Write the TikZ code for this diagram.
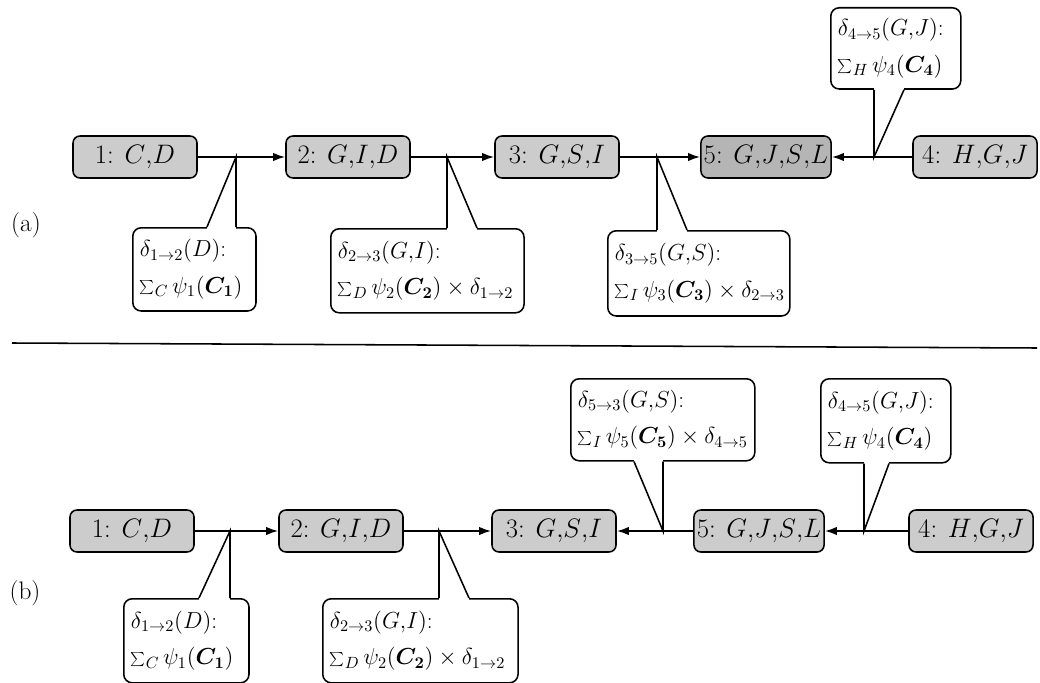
\RequirePackage{fix-cm}
\documentclass[tikz,border=0pt]{standalone}
\usepackage{bm}
\usetikzlibrary{arrows.meta,calc,positioning}
\tikzset{
  clique/.style     = {draw, line width=1.1pt, rounded corners=5pt, fill=gray!40,
                       minimum width=3.1cm, minimum height=1.05cm, inner sep=2pt,
                       font=\fontsize{19}{21}\selectfont},
  clique dark/.style = {clique, fill=gray!58},
  msg/.style        = {draw, line width=1.1pt, rounded corners=6pt, fill=white,
                       anchor=north west, align=left, inner xsep=0.18cm,
                       inner ysep=2pt, font=\fontsize{16.5}{26}\selectfont},
  tag/.style        = {font=\fontsize{18}{20}\selectfont}
}
% tail of a message box: box anchor, tip, offset of the slanted side
\newcommand{\tail}[3]{%
  \draw[white, line width=2.5pt] ($(#2|-#1)+(#3,0)$) -- (#2|-#1);
  \draw[line width=1.1pt] ($(#2|-#1)+(#3,0)$) -- (#2) -- (#2|-#1);
}

\begin{document}
\begin{tikzpicture}[x=0.025cm, y=-0.025cm, >={Latex[length=3mm,width=2.1mm]}]
\useasboundingbox (0,0) rectangle (1040,683);

% (a) the cliques
\node[tag] (taga) at (26,225) {(a)};
\node[clique] (n1a) at (135,157) {1: $C{,}D$};
\node[clique] (n2a) at (348,157) {2: $G{,}I{,}D$};
\node[clique] (n3a) at (557,157) {3: $G{,}S{,}I$};
\node[clique dark] (n5a) at (766,157) {5: $G{,}J{,}S{,}L$};
\node[clique] (n4a) at (975,157) {4: $H{,}G{,}J$};

\begin{scope}[line width=1.3pt]
\draw[->] (n1a) -- (n2a);
\draw[->] (n2a) -- (n3a);
\draw[->] (n3a) -- (n5a);
\draw[->] (n4a) -- (n5a);
\end{scope}

\coordinate (t12a) at (236,157);
\coordinate (t23a) at (447,157);
\coordinate (t35a) at (657,157);
\coordinate (t45a) at (874,157);

% (a) the messages
\node[msg, text width=2.72cm, minimum height=2.08cm] (m12a) at (132,227)
  {\mbox{$\delta_{1\to2}(D)$:}\\ \mbox{$\sum_C \psi_1(\bm{C_1})$}};
\node[msg, text width=4.47cm, minimum height=2.1cm] (m23a) at (330,228)
  {\mbox{$\delta_{2\to3}(G{,}I)$:}\\ \mbox{$\sum_D \psi_2(\bm{C_2}) \times \delta_{1\to2}$}};
\node[msg, text width=4.19cm, minimum height=2.13cm] (m35a) at (607,230)
  {\mbox{$\delta_{3\to5}(G{,}S)$:}\\ \mbox{$\sum_I \psi_3(\bm{C_3}) \times \delta_{2\to3}$}};
\node[msg, text width=2.89cm, minimum height=2.03cm] (m45a) at (830,7)
  {\mbox{$\delta_{4\to5}(G{,}J)$:}\\ \mbox{$\sum_H \psi_4(\bm{C_4})$}};

\tail{m12a.north}{t12a}{-29}
\tail{m23a.north}{t23a}{30}
\tail{m35a.north}{t35a}{30}
\tail{m45a.south}{t45a}{30}

\draw[line width=1.1pt] (12,343) -- (1037,348);

% (b) the cliques
\node[tag] (tagb) at (25,593) {(b)};
\node[clique] (n1b) at (132,531) {1: $C{,}D$};
\node[clique] (n2b) at (341,531) {2: $G{,}I{,}D$};
\node[clique] (n3b) at (554,531) {3: $G{,}S{,}I$};
\node[clique] (n5b) at (759,531) {5: $G{,}J{,}S{,}L$};
\node[clique] (n4b) at (971,531) {4: $H{,}G{,}J$};

\begin{scope}[line width=1.3pt]
\draw[->] (n1b) -- (n2b);
\draw[->] (n2b) -- (n3b);
\draw[->] (n5b) -- (n3b);
\draw[->] (n4b) -- (n5b);
\end{scope}

\coordinate (t12b) at (230,531);
\coordinate (t23b) at (439,531);
\coordinate (t53b) at (663,531);
\coordinate (t45b) at (864,531);

% (b) the messages
\node[msg, text width=2.77cm, minimum height=2.1cm] (m12b) at (123,598)
  {\mbox{$\delta_{1\to2}(D)$:}\\ \mbox{$\sum_C \psi_1(\bm{C_1})$}};
\node[msg, text width=4.52cm, minimum height=2.1cm] (m23b) at (322,598)
  {\mbox{$\delta_{2\to3}(G{,}I)$:}\\ \mbox{$\sum_D \psi_2(\bm{C_2}) \times \delta_{1\to2}$}};
\node[msg, text width=4.24cm, minimum height=2.05cm] (m53b) at (570,378)
  {\mbox{$\delta_{5\to3}(G{,}S)$:}\\ \mbox{$\sum_I \psi_5(\bm{C_5}) \times \delta_{4\to5}$}};
\node[msg, text width=2.89cm, minimum height=2.1cm] (m45b) at (820,378)
  {\mbox{$\delta_{4\to5}(G{,}J)$:}\\ \mbox{$\sum_H \psi_4(\bm{C_4})$}};

\tail{m12b.north}{t12b}{-31}
\tail{m23b.north}{t23b}{30}
\tail{m53b.south}{t53b}{-29}
\tail{m45b.south}{t45b}{25}
\end{tikzpicture}
\end{document}
